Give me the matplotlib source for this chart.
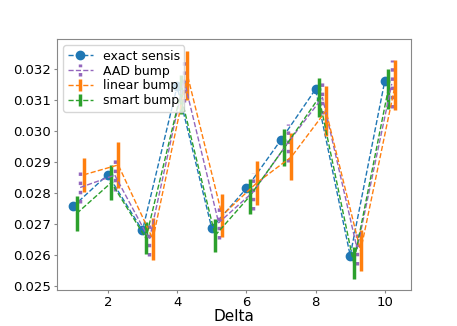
import matplotlib
matplotlib.use("Agg")
import matplotlib.pyplot as plt
import numpy as np

deltas = np.arange(1, 11)

exact_sensis = [0.02756, 0.02859, 0.02678, 0.03144, 0.02686, 0.02814, 0.02971, 0.03135, 0.02597, 0.03162]

aad_bump = [0.02817, 0.02857, 0.02649, 0.03165, 0.02703, 0.02803, 0.02962, 0.03108, 0.02619, 0.03152]
aad_err = [0.00050, 0.00051, 0.00052, 0.00070, 0.00051, 0.00060, 0.00062, 0.00053, 0.00054, 0.00078]

linear_bump = [0.02858, 0.02890, 0.02650, 0.03180, 0.02727, 0.02832, 0.02916, 0.03065, 0.02612, 0.03149]
linear_err = [0.00056, 0.00073, 0.00069, 0.00080, 0.00070, 0.00071, 0.00076, 0.00081, 0.00066, 0.00081]

smart_bump = [0.02733, 0.02833, 0.02653, 0.03118, 0.02662, 0.02789, 0.02946, 0.03108, 0.02573, 0.03135]
smart_err = [0.00056, 0.00058, 0.00052, 0.00063, 0.00054, 0.00057, 0.00060, 0.00063, 0.00051, 0.00065]

fig = plt.figure(figsize=(4.57, 3.26), dpi=100)
ax = fig.add_subplot(111)

ax.plot(deltas, exact_sensis, 'o--', color='C0', lw=1, ms=6, label='exact sensis')
e1 = ax.errorbar(deltas + 0.2, aad_bump, yerr=aad_err, fmt='--', color='C4', lw=1,
                 elinewidth=2.5, label='AAD bump')
e1[2][0].set_linestyle(':')
ax.errorbar(deltas + 0.3, linear_bump, yerr=linear_err, fmt='--', color='C1', lw=1,
            elinewidth=2.5, label='linear bump')
ax.errorbar(deltas + 0.1, smart_bump, yerr=smart_err, fmt='--', color='C2', lw=1,
            elinewidth=2.5, label='smart bump')

ax.set_xlabel('Delta', fontsize=11, labelpad=0)
ax.tick_params(labelsize=9.5, color='#888888', length=2.5, pad=2)
for s in ax.spines.values():
    s.set_color('#888888')
ax.set_xticks([2, 4, 6, 8, 10])
ax.set_yticks([0.025, 0.026, 0.027, 0.028, 0.029, 0.030, 0.031, 0.032])
ax.yaxis.set_major_formatter(matplotlib.ticker.FormatStrFormatter('%.3f'))
ax.legend(loc='upper left', fontsize=9, labelspacing=0.15, borderpad=0.35,
          handlelength=2.0)

fig.subplots_adjust(left=0.125, right=0.9, bottom=0.11, top=0.88)
fig.savefig('out.png', dpi=100)
